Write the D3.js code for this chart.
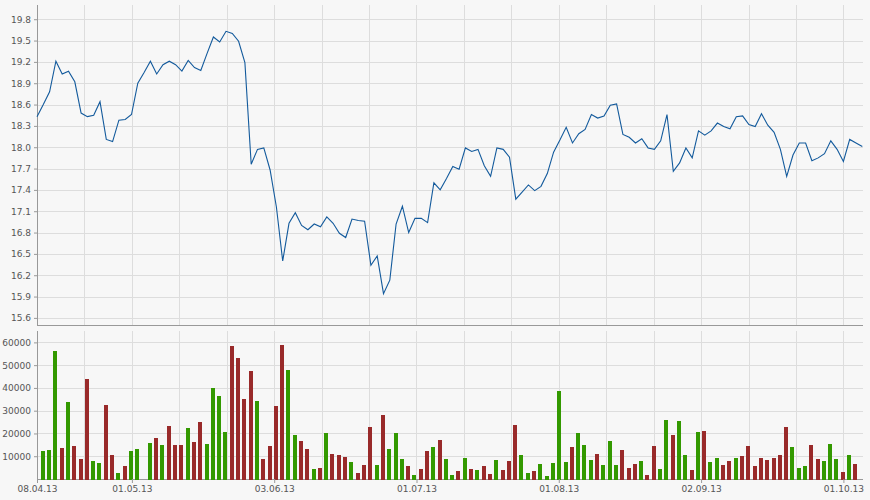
<!DOCTYPE html>
<html><head><meta charset="utf-8">
<script src="https://cdn.jsdelivr.net/npm/d3@7/dist/d3.min.js"></script>
<style>
html,body{margin:0;padding:0;background:#f7f7f7;}
svg{display:block;}
text{font-family:"DejaVu Sans",Verdana,sans-serif;font-size:9px;fill:#555;}
</style></head>
<body><svg id="c" width="870" height="500"></svg>
<script>
// ---- data ----
const closes = [18.43,18.60,18.78,19.21,19.03,19.07,18.92,18.48,18.43,18.45,
18.64,18.11,18.08,18.38,18.39,18.46,18.90,19.05,19.21,19.03,
19.16,19.21,19.16,19.07,19.22,19.12,19.08,19.32,19.55,19.48,
19.63,19.60,19.49,19.19,17.76,17.97,17.99,17.68,17.16,16.40,
16.93,17.08,16.90,16.84,16.92,16.88,17.02,16.93,16.79,16.73,
16.99,16.97,16.96,16.34,16.47,15.94,16.13,16.92,17.17,16.80,
17.00,17.00,16.94,17.50,17.40,17.56,17.73,17.69,17.99,17.94,
17.97,17.74,17.59,17.99,17.97,17.86,17.27,17.37,17.47,17.39,
17.45,17.63,17.93,18.10,18.28,18.06,18.19,18.25,18.46,18.41,
18.44,18.59,18.61,18.18,18.14,18.06,18.12,17.99,17.97,18.09,
18.46,17.66,17.78,17.99,17.85,18.23,18.17,18.23,18.34,18.29,
18.26,18.43,18.44,18.32,18.29,18.47,18.31,18.21,17.97,17.59,
17.89,18.06,18.06,17.81,17.85,17.91,18.09,17.97,17.80,18.11,
18.06,18.01];
// volume per day (index 0 and 17 have no bar)
const volumes = [null,12400,12850,56200,13700,33900,14600,8900,43900,8000,
7150,32550,10650,2800,5550,12400,13300,null,15900,18100,
15000,23350,15000,15000,22500,16350,25100,15500,40000,36500,
20700,58400,53100,35200,47400,34300,8900,14600,32100,58800,
47900,19400,16800,13300,4500,4950,20300,11100,10650,9800,
7600,2800,6300,22900,6300,28200,13300,20300,8900,5850,
1900,4500,12400,14150,17200,8900,1900,3650,9350,4500,
4100,5850,2350,8450,4100,8050,23800,10650,2800,3650,
6700,1450,7150,38700,7600,14150,20300,15000,8450,11100,
6300,16800,6300,12850,4950,6700,8050,1900,14600,4500,
26000,19400,25550,10650,4100,20700,21200,7600,9350,6300,
8050,9350,10200,14600,5850,9350,8450,9350,10650,22900,
14150,4950,5850,15000,8900,8050,15500,8900,3200,10650,
6700,null];
// bar direction: g = up (green), r = down (red)
const dirs = ("-gggrgrrrgg"+"rrgrgg-grg"+"rrrgrrgggg"+"rrrrgrrrrg"+"grrgrgrrrg"+
"rrrgrgggrg"+"rrgrggrgrg"+"rrgrrrggrg"+"ggggrgggrg"+"ggrrrgrrgg"+
"rggrgrggrr"+"grrrrrrrrg"+"ggrrgggrgr"+"-").split("");
const priceTicks = [15.6,15.9,16.2,16.5,16.8,17.1,17.4,17.7,18.0,18.3,18.6,18.9,19.2,19.5,19.8];
const volumeTicks = [10000,20000,30000,40000,50000,60000];
const dateLabels = ["08.04.13","01.05.13","03.06.13","01.07.13","01.08.13","02.09.13","01.10.13"];
const dateLabelIdx = [0,15.06,37.65,60.24,82.82,105.41,128];
const gridCount = 17, gridEndIdx = 128;

// ---- chart ----
const svg = d3.select("#c");
const L = 37, R = 862.3;
const x = d3.scaleLinear().domain([0, closes.length-1]).range([L, R]);
const yP = d3.scaleLinear().domain([15.5, 20.0]).range([325, 5]);
const yV = d3.scaleLinear().domain([0, 65000]).range([479, 331]);
const gridIdx = d3.range(gridCount+1).map(k => k*gridEndIdx/gridCount);
const gridC = "#dddddd", axisC = "#999999";

function panel(y, top, bottom, ticks, fmt){
  const g = svg.append("g");
  g.selectAll(".hg").data(ticks).enter().append("line")
    .attr("x1", L).attr("x2", 863)
    .attr("y1", d => Math.round(y(d))+0.5).attr("y2", d => Math.round(y(d))+0.5)
    .attr("stroke", gridC).attr("shape-rendering","crispEdges");
  g.selectAll(".vg").data(gridIdx.slice(1)).enter().append("line")
    .attr("x1", d => Math.round(x(d))+0.5).attr("x2", d => Math.round(x(d))+0.5)
    .attr("y1", top).attr("y2", bottom)
    .attr("stroke", gridC).attr("shape-rendering","crispEdges");
  const ax = g.append("g").attr("transform", `translate(${L},0)`)
    .call(d3.axisLeft(y).tickValues(ticks).tickSize(3).tickPadding(3).tickFormat(fmt));
  ax.select(".domain").remove();
  ax.selectAll("line").attr("stroke", axisC);
  ax.selectAll("text").attr("fill","#555").style("font-size","9px").style("font-family","DejaVu Sans");
  g.append("line").attr("x1", L+0.5).attr("x2", L+0.5).attr("y1", top).attr("y2", bottom+0.5)
    .attr("stroke", axisC).attr("shape-rendering","crispEdges");
  g.append("line").attr("x1", L).attr("x2", 863).attr("y1", bottom+0.5).attr("y2", bottom+0.5)
    .attr("stroke", axisC).attr("shape-rendering","crispEdges");
  return g;
}

panel(yP, 5, 325, priceTicks, d3.format(".1f"));
panel(yV, 331, 479, volumeTicks, d3.format("d"));

// price line
svg.append("path").datum(closes)
  .attr("fill","none").attr("stroke","#135a9c").attr("stroke-width",1.1)
  .attr("d", d3.line().x((d,i) => x(i)).y(d => yP(d)));

// volume bars
const barData = volumes.map((v,i) => ({i, v, d: dirs[i]})).filter(o => o.v != null);
svg.append("g").selectAll("rect").data(barData).enter().append("rect")
  .attr("x", o => Math.round(x(o.i) - 2.6))
  .attr("width", 4)
  .attr("y", o => Math.round(yV(o.v)))
  .attr("height", o => 479 - Math.round(yV(o.v)) + 1)
  .attr("fill", o => o.d === "g" ? "#339900" : "#992a2a")
  .attr("shape-rendering","crispEdges");

// date axis
const xa = svg.append("g").attr("transform","translate(0,479)")
  .call(d3.axisBottom(x).tickValues(dateLabelIdx).tickSize(4).tickPadding(3)
    .tickFormat((d,i) => dateLabels[i]));
xa.select(".domain").remove();
xa.selectAll("line").attr("stroke", axisC);
xa.selectAll("text").attr("fill","#555").style("font-size","9px").style("font-family","DejaVu Sans");
</script></body></html>
